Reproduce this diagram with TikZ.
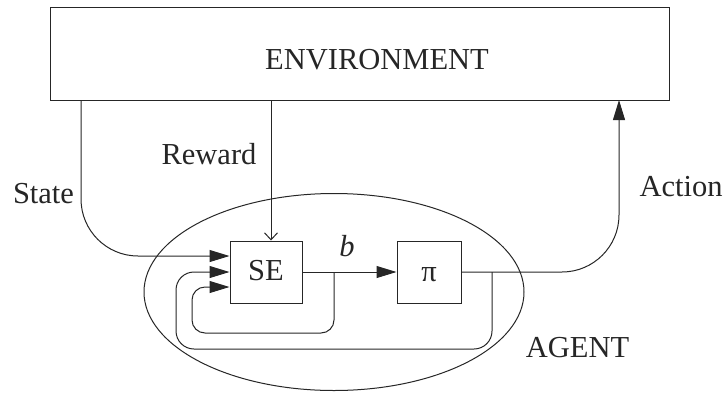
\documentclass[tikz,border=0pt]{standalone}
\usepackage{fontspec}
\newfontfamily\figfont{LiberationSerif}[Extension=.ttf, UprightFont=*-Regular, ItalicFont=*-Italic]
\usetikzlibrary{arrows.meta,shapes.geometric}
\begin{document}
\begin{tikzpicture}[x=1pt,y=-1pt,
  every node/.style={font=\figfont\fontsize{30.5}{36}\selectfont, text=black!85},
  ln/.style={draw=black!85, line width=1pt},
  arrtip/.style={ln, -{Triangle[length=20pt,width=12pt]}},
  barbtip/.style={ln, -{Straight Barb[length=7pt,width=13pt]}},
  box/.style={draw=black!85, line width=1pt, rectangle, inner sep=0pt}
]
\useasboundingbox (0,0) rectangle (726,392);
% environment
\node[box, minimum width=619pt, minimum height=93pt] (env) at (359.5,53.5) {};
\node[anchor=base] (envlab) at (377,69) {ENVIRONMENT};
% agent ellipse
\node[ellipse, draw=black!85, line width=1pt, inner sep=0pt, minimum width=380pt, minimum height=197pt] (agent) at (334,292) {};
% boxes
\node[box, minimum width=72pt, minimum height=62pt] (SE) at (266,272) {};
\node[anchor=base] (selab) at (266,280) {SE};
\node[box, minimum width=64pt, minimum height=62pt] (pi) at (429,272) {};
\node[anchor=base] (pilab) at (429,281) {π};
% tap coordinates
\coordinate (stateTop) at (81,100);
\coordinate (rewTop) at (271,100);
\coordinate (actTop) at (619,100);
\coordinate (bTap) at (334,272);
\coordinate (piTap) at (492,272);
% connectors
\draw[arrtip, rounded corners=57pt] (stateTop) |- ([yshift=16pt]SE.west);
\draw[barbtip] (rewTop) -- (rewTop |- SE.north);
\draw[arrtip] (SE.east) -- (pi.west);
\draw[arrtip, rounded corners=57pt] (pi.east) -| (actTop);
\draw[arrtip, rounded corners=13pt] (bTap) -- (334,333) -- (192,333) -- (192,287) -- ([yshift=-15pt]SE.west);
\draw[arrtip, rounded corners=18pt] (piTap) -- (492,349) -- (176,349) -- (176,272) -- (SE.west);
% labels
\node[anchor=base] (statelab) at (43.5,203) {State};
\node[anchor=base] (rewlab) at (209,164) {Reward};
\node[anchor=base] (actlab) at (681,196) {Action};
\node[anchor=base] (agentlab) at (577.5,357) {AGENT};
\node[anchor=base] (blab) at (347,256) {\textit{b}};
\end{tikzpicture}
\end{document}
